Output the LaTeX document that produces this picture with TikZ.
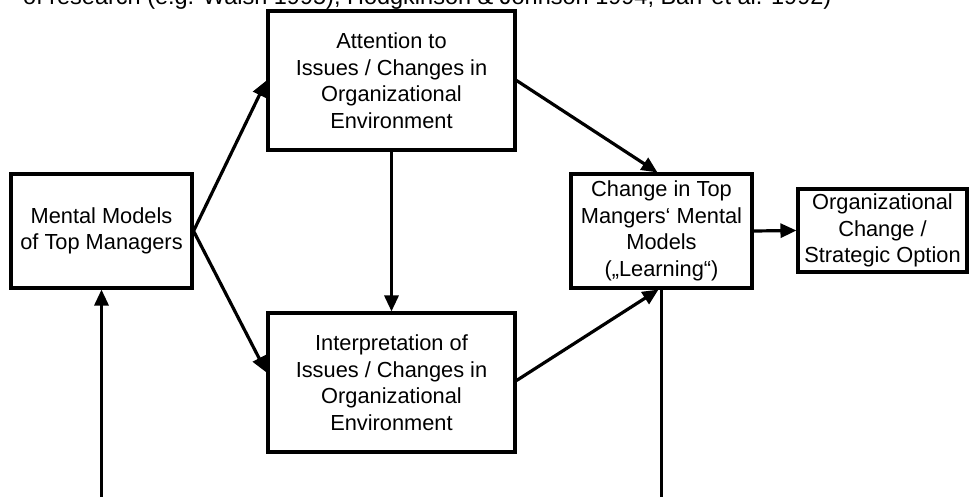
\documentclass[tikz,border=0pt]{standalone}
\usepackage{fontspec}
\setmainfont{Liberation Sans}
\usetikzlibrary{arrows.meta}

\tikzset{
  box/.style={draw, line width=3.1pt, rectangle, inner sep=0pt, align=center,
              font=\fontsize{21.8}{26.5}\selectfont},
  link/.style={line width=3.2pt},
  arr/.style={link, -{Triangle[length=16pt, width=14pt]}},
}

\begin{document}
\begin{tikzpicture}[x=1pt, y=-1pt]
  % page frame
  \clip (0,0) rectangle (970,497);
  \fill[white] (0,0) rectangle (970,497);

  % running text line above the figure, trimmed by the page edge
  \node[anchor=base west, inner sep=0pt, font=\fontsize{23.5}{27}\selectfont]
    (cite) at (23,5) {of research (e.g. Walsh 1995), Hodgkinson \& Johnson 1994; Barr et al. 1992)};

  % boxes
  \node[box, minimum width=181pt, minimum height=114pt] (mm) at (101.5,231)
    {Mental Models\\of Top Managers};
  \node[box, minimum width=247pt, minimum height=139pt] (att) at (391.5,80.5)
    {Attention to\\Issues / Changes in\\Organizational\\Environment};
  \node[box, minimum width=247pt, minimum height=139pt] (int) at (391.5,382.5)
    {Interpretation of\\Issues / Changes in\\Organizational\\Environment};
  \node[box, minimum width=181pt, minimum height=114pt] (chg) at (661.5,231)
    {Change in Top\\Mangers‘ Mental\\Models\\(„Learning“)};
  \node[box, minimum width=169pt, minimum height=83pt] (org) at (882.5,230.5)
    {Organizational\\Change /\\Strategic Option};

  % loose ends at the bottom edge
  \coordinate (lb) at (101.5,500);
  \coordinate (rb) at (661.5,500);

  % connectors
  \draw[arr] (mm.east) -- (att.west);
  \draw[arr] (mm.east) -- ([yshift=10pt]int.west);
  \draw[arr] (att.south) -- (int.north);
  \draw[arr] (att.east) -- ([xshift=-4pt]chg.north);
  \draw[arr] ([yshift=2pt]int.east) -- ([xshift=-3pt]chg.south);
  \draw[link] (rb) -- (chg.south);
  \draw[arr] (lb) -- (mm.south);
  \draw[arr] (chg.east) -- (org.west);
\end{tikzpicture}
\end{document}
